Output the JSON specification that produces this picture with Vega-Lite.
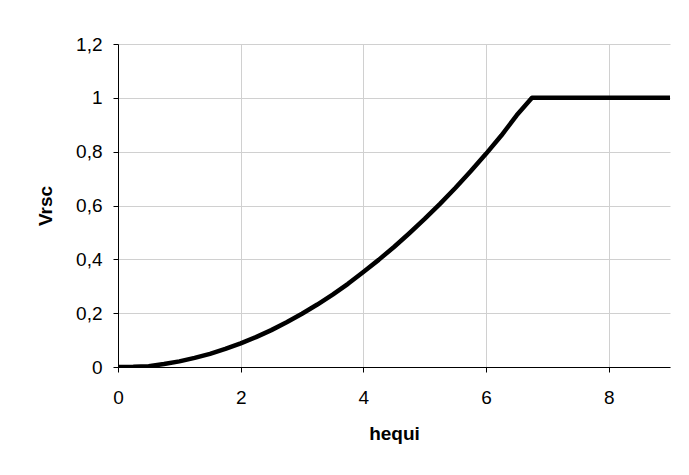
{
  "$schema": "https://vega.github.io/schema/vega-lite/v6.json",
  "width": 552,
  "height": 323,
  "autosize": {"type": "none"},
  "padding": {"left": 118, "top": 44, "right": 19, "bottom": 108},
  "background": "white",
  "config": {
    "view": {"stroke": null},
    "font": "Liberation Sans",
    "axis": {
      "labelFont": "Liberation Sans",
      "titleFont": "Liberation Sans",
      "labelFontSize": 19,
      "titleFontSize": 19,
      "labelColor": "black",
      "titleColor": "black",
      "titleFontWeight": "bold",
      "domainColor": "black",
      "domainWidth": 1,
      "tickColor": "black",
      "tickSize": 5,
      "gridColor": "#d0d0d0",
      "gridWidth": 1
    }
  },
  "data": {
    "values": [
      {"hequi": 0, "Vrsc": 0},
      {"hequi": 0.25, "Vrsc": 0.0005},
      {"hequi": 0.5, "Vrsc": 0.003},
      {"hequi": 0.75, "Vrsc": 0.011},
      {"hequi": 1, "Vrsc": 0.021},
      {"hequi": 1.25, "Vrsc": 0.034},
      {"hequi": 1.5, "Vrsc": 0.049},
      {"hequi": 1.75, "Vrsc": 0.067},
      {"hequi": 2, "Vrsc": 0.088},
      {"hequi": 2.25, "Vrsc": 0.111},
      {"hequi": 2.5, "Vrsc": 0.137},
      {"hequi": 2.75, "Vrsc": 0.166},
      {"hequi": 3, "Vrsc": 0.198},
      {"hequi": 3.25, "Vrsc": 0.232},
      {"hequi": 3.5, "Vrsc": 0.269},
      {"hequi": 3.75, "Vrsc": 0.309},
      {"hequi": 4, "Vrsc": 0.353},
      {"hequi": 4.25, "Vrsc": 0.398},
      {"hequi": 4.5, "Vrsc": 0.446},
      {"hequi": 4.75, "Vrsc": 0.497},
      {"hequi": 5, "Vrsc": 0.55},
      {"hequi": 5.25, "Vrsc": 0.606},
      {"hequi": 5.5, "Vrsc": 0.665},
      {"hequi": 5.75, "Vrsc": 0.727},
      {"hequi": 6, "Vrsc": 0.792},
      {"hequi": 6.25, "Vrsc": 0.86},
      {"hequi": 6.5, "Vrsc": 0.935},
      {"hequi": 6.75, "Vrsc": 1},
      {"hequi": 7, "Vrsc": 1},
      {"hequi": 7.5, "Vrsc": 1},
      {"hequi": 8, "Vrsc": 1},
      {"hequi": 8.5, "Vrsc": 1},
      {"hequi": 9, "Vrsc": 1}
    ]
  },
  "mark": {"type": "line", "color": "black", "strokeWidth": 4.5, "strokeJoin": "round", "clip": true},
  "encoding": {
    "x": {
      "field": "hequi",
      "type": "quantitative",
      "scale": {"domain": [0, 9], "nice": false, "zero": false},
      "axis": {
        "values": [0, 2, 4, 6, 8],
        "title": "hequi",
        "labelPadding": 16,
        "titlePadding": 17,
        "labelFlush": false,
        "labelOverlap": false
      }
    },
    "y": {
      "field": "Vrsc",
      "type": "quantitative",
      "scale": {"domain": [0, 1.2], "nice": false},
      "axis": {
        "values": [0, 0.2, 0.4, 0.6, 0.8, 1, 1.2],
        "title": "Vrsc",
        "labelPadding": 11,
        "titlePadding": 20,
        "labelFlush": false,
        "labelOverlap": false,
        "labelExpr": "replace(toString(round(datum.value * 10) / 10), '.', ',')"
      }
    }
  }
}
